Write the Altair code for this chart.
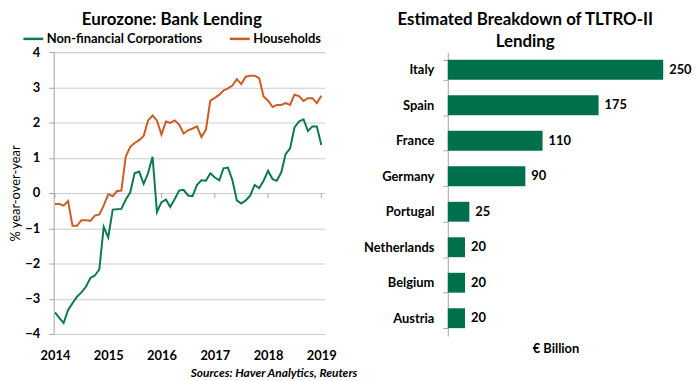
import altair as alt
import pandas as pd

# ---------------- data ----------------
months = pd.date_range("2014-01-01", periods=61, freq="MS").strftime("%Y-%m-%d").tolist()

nfc = [-3.39, -3.55, -3.69, -3.32, -3.13, -2.94, -2.82, -2.66, -2.41, -2.34,
       -2.17, -0.96, -1.26, -0.47, -0.46, -0.45, -0.19, 0.02, 0.56, 0.61,
       0.26, 0.56, 1.03, -0.54, -0.26, -0.19, -0.40, -0.17, 0.07, 0.09,
       -0.07, -0.09, 0.23, 0.36, 0.35, 0.56, 0.44, 0.36, 0.70, 0.72,
       0.37, -0.21, -0.30, -0.21, -0.07, 0.23, 0.14, 0.35, 0.63, 0.39,
       0.35, 0.58, 1.10, 1.27, 1.86, 2.03, 2.09, 1.76, 1.89, 1.89,
       1.36]

households = [-0.31, -0.31, -0.36, -0.23, -0.93, -0.93, -0.77, -0.77, -0.79, -0.64,
              -0.61, -0.36, -0.03, -0.09, 0.05, 0.07, 1.03, 1.31, 1.42, 1.50,
              1.62, 2.06, 2.20, 2.06, 1.66, 2.03, 1.99, 2.06, 1.94, 1.69,
              1.78, 1.83, 1.89, 1.59, 1.80, 2.62, 2.70, 2.79, 2.91, 2.97,
              3.05, 3.23, 3.09, 3.30, 3.33, 3.33, 3.26, 2.74, 2.62, 2.44,
              2.50, 2.50, 2.55, 2.50, 2.79, 2.75, 2.61, 2.69, 2.69, 2.55,
              2.76]

series_names = ["Non-financial Corporations", "Households"]
series_colors = ["#0c7a50", "#cf5a24"]
year_ticks = ["2014-01-01", "2015-01-01", "2016-01-01", "2017-01-01", "2018-01-01", "2019-01-01"]
y_ticks = [-4, -3, -2, -1, 0, 1, 2, 3, 4]

countries = ["Italy", "Spain", "France", "Germany", "Portugal", "Netherlands", "Belgium", "Austria"]
tltro = [250, 175, 110, 90, 25, 20, 20, 20]

left_title = "Eurozone: Bank Lending"
right_title = ["Estimated Breakdown of TLTRO-II", "Lending"]
source_text = "Sources: Haver Analytics, Reuters"

FONT = "Lato"

# ---------------- left chart ----------------
line_df = pd.DataFrame({
    "date": months * 2,
    "value": nfc + households,
    "series": [series_names[0]] * len(nfc) + [series_names[1]] * len(households),
    "order": [1] * len(nfc) + [0] * len(households),
})

LW, LH = 273, 284

xscale = alt.Scale(domain=["2013-12-23", "2019-01-24"])
yscale = alt.Scale(domain=[-4, 4], nice=False, zero=False)

xaxis = alt.Axis(format="%Y", values=year_ticks, title=None, grid=False,
                 ticks=False, domain=False, labelFontSize=13,
                 labelFontWeight="bold", labelFont=FONT, labelColor="#000",
                 labelPadding=16, labelFlush=False)
yaxis = alt.Axis(values=y_ticks, labelOverlap=False,
                 title="% year-over-year",
                 titleFont=FONT, titleFontSize=13, titleFontWeight="normal",
                 titleColor="#000", titlePadding=2,
                 labelFont=FONT, labelFontSize=13, labelFontWeight="bold",
                 labelColor="#000", labelPadding=9, tickSize=5,
                 tickColor="#a6a6a6", domainColor="#a6a6a6",
                 gridColor="#cccccc", gridWidth=1.2)

lines = alt.Chart(line_df).mark_line(strokeWidth=2).encode(
    x=alt.X("date:T", scale=xscale, axis=xaxis),
    y=alt.Y("value:Q", scale=yscale, axis=yaxis),
    color=alt.Color("series:N", scale=alt.Scale(domain=series_names, range=series_colors),
                    legend=alt.Legend(title=None, orient="none", legendX=-32, legendY=-25,
                                      direction="horizontal", symbolType="stroke",
                                      symbolSize=400, symbolStrokeWidth=2.5,
                                      labelFont=FONT, labelFontSize=13, labelLimit=400,
                                      labelFontWeight="bold", labelColor="#000",
                                      labelOffset=2, columnPadding=22, padding=0)),
    order=alt.Order("order:Q"),
)

tick_df = pd.DataFrame({"date": year_ticks})
year_rules = alt.Chart(tick_df).mark_rule(color="#a6a6a6", strokeWidth=1).encode(
    x=alt.X("date:T", scale=xscale, axis=xaxis),
    y=alt.YDatum(0, scale=yscale, axis=yaxis),
    y2=alt.Y2Datum(-0.14),
)

ltitle = alt.Chart(pd.DataFrame({"t": [left_title]})).mark_text(
    font=FONT, fontSize=17, fontWeight="bold", color="#000", align="center", baseline="middle"
).encode(text="t:N", x=alt.value(119), y=alt.value(-32))

source = alt.Chart(pd.DataFrame({"t": [source_text]})).mark_text(
    font=FONT, fontSize=12, fontWeight="bold", fontStyle="italic", color="#000",
    align="right", baseline="middle"
).encode(text="t:N", x=alt.value(306), y=alt.value(LH + 39))

left = alt.layer(lines, year_rules, ltitle, source).properties(width=LW, height=LH)

# ---------------- right chart ----------------
bar_df = pd.DataFrame({"country": countries, "value": tltro})
RW, RH = 217, 286

base = alt.Chart(bar_df).encode(
    y=alt.Y("country:N", sort=countries,
            scale=alt.Scale(paddingInner=0.44, paddingOuter=0.22),
            axis=alt.Axis(title=None, tickBand="extent", tickSize=5, tickColor="#a6a6a6",
                          domainColor="#a6a6a6", labelFont=FONT, labelFontSize=13,
                          labelFontWeight="bold", labelColor="#000", labelPadding=9,
                          grid=False)),
    x=alt.X("value:Q", scale=alt.Scale(domain=[0, 250], nice=False),
            axis=alt.Axis(title="€ Billion", labels=False, ticks=False, domain=False,
                          grid=False, titleFont=FONT, titleFontSize=13,
                          titleFontWeight="bold", titleColor="#000", titlePadding=7)),
)
bars = base.mark_bar(color="#00704c")
labels = base.mark_text(align="left", baseline="middle", dx=6, font=FONT, fontSize=13,
                        fontWeight="bold", color="#000").encode(text="value:Q")

rtitle = alt.Chart(pd.DataFrame({"t": [0]})).mark_text(
    text=right_title, font=FONT, fontSize=17, fontWeight="bold", color="#000",
    align="center", baseline="middle", lineHeight=22
).encode(x=alt.value(78), y=alt.value(-32))

right = alt.layer(bars, labels, rtitle).properties(width=RW, height=RH)

chart = alt.hconcat(left, right, spacing=124, bounds="flush").configure_view(
    stroke=None
).properties(
    padding={"left": 1, "top": 2, "right": 0, "bottom": 0}
)

chart.save("out.html", embed_options={"renderer": "svg", "actions": False})
